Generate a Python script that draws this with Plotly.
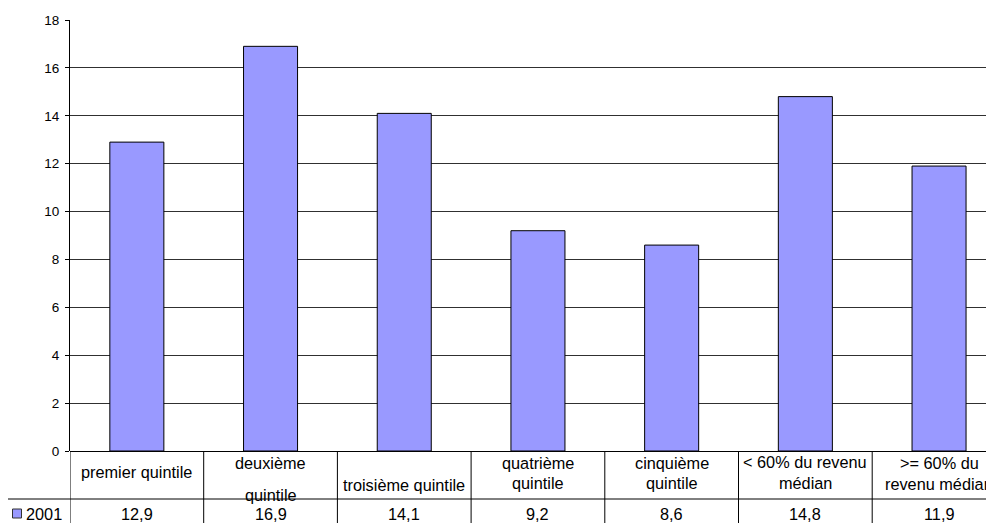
import plotly.graph_objects as go

# ---- data ----
categories = ["premier quintile", "deuxième quintile", "troisième quintile",
              "quatrième quintile", "cinquième quintile",
              "< 60% du revenu médian", ">= 60% du revenu médian"]
values_2001 = [12.9, 16.9, 14.1, 9.2, 8.6, 14.8, 11.9]
value_labels = ["12,9", "16,9", "14,1", "9,2", "8,6", "14,8", "11,9"]
series_name = "2001"
y_ticks = [0, 2, 4, 6, 8, 10, 12, 14, 16, 18]

# ---- layout geometry (reference pixels; page body adds an 8px offset) ----
OFF = 8
W, H = 994 - OFF, 523 - OFF
ML = 70 - OFF
MT = 20 - OFF
ZERO_PX = 451 - OFF
MB = H - ZERO_PX
plot_h = H - MT - MB
plot_w = W - ML
cat_px = 133.7
FONT = "Arial, Liberation Sans, sans-serif"
BAR = "#9999FF"
TXT = 16.3

def py(p):  # reference pixel y -> paper y
    return (ZERO_PX - (p - OFF)) / plot_h

def px(p):  # reference pixel x -> paper x
    return (p - OFF - ML) / plot_w

# category label lines and their pixel rows (Excel-like placement)
label_lines = [
    [("premier quintile", 472)],
    [("deuxième", 463), ("quintile", 495)],
    [("troisième quintile", 485)],
    [("quatrième", 463), ("quintile", 483)],
    [("cinquième", 463), ("quintile", 483)],
    [("< 60% du revenu", 462), ("médian", 483)],
    [(">= 60% du", 463), ("revenu médian", 484)],
]

fig = go.Figure()
fig.add_trace(go.Bar(
    x=list(range(len(categories))), y=values_2001, name=series_name,
    marker=dict(color=BAR, line=dict(color="#000000", width=1)),
    hovertext=categories, showlegend=False,
))

shapes = []
annotations = []
row_div = py(499)
bottom = py(540)
for k in range(len(categories) + 1):
    shapes.append(dict(type="line", xref="x", yref="paper",
                       x0=k - 0.5, x1=k - 0.5, y0=0, y1=bottom,
                       line=dict(color="#000000", width=1)))
shapes.append(dict(type="line", xref="paper", yref="paper",
                   x0=px(7), x1=1.05, y0=row_div, y1=row_div,
                   line=dict(color="#000000", width=1)))
shapes.append(dict(type="line", xref="paper", yref="paper",
                   x0=px(7.5), x1=px(7.5), y0=row_div, y1=bottom,
                   line=dict(color="#000000", width=1)))
shapes.append(dict(type="rect", xref="paper", yref="paper",
                   x0=px(12.5), x1=px(21.5), y0=py(509), y1=py(518),
                   fillcolor=BAR, line=dict(color="#333333", width=1)))
annotations.append(dict(text=series_name, xref="paper", yref="paper",
                        x=px(24), y=py(513.5), xanchor="left", yanchor="middle",
                        showarrow=False, font=dict(family=FONT, size=TXT, color="#000")))

for i, lines in enumerate(label_lines):
    for txt, ypix in lines:
        annotations.append(dict(text=txt, xref="x", yref="paper", x=i, y=py(ypix),
                                xanchor="center", yanchor="middle", showarrow=False,
                                font=dict(family=FONT, size=TXT, color="#000")))
    annotations.append(dict(text=value_labels[i], xref="x", yref="paper", x=i, y=py(513.5),
                            xanchor="center", yanchor="middle", showarrow=False,
                            font=dict(family=FONT, size=TXT, color="#000")))

fig.update_layout(
    width=W, height=H,
    margin=dict(l=ML, r=0, t=MT, b=MB, pad=0),
    paper_bgcolor="white", plot_bgcolor="white",
    bargap=0.596,
    showlegend=False,
    shapes=shapes, annotations=annotations,
    font=dict(family=FONT, color="#000"),
)
fig.update_xaxes(range=[-0.5, -0.5 + plot_w / cat_px], showticklabels=False,
                 showgrid=False, zeroline=False, showline=False, ticks="")
fig.update_yaxes(range=[0, 18], tickvals=y_ticks, ticks="outside", ticklen=4,
                 tickcolor="#000", showline=True, linecolor="#000", linewidth=1,
                 showgrid=True, gridcolor="#303030", gridwidth=1,
                 zeroline=True, zerolinecolor="#000", zerolinewidth=1,
                 tickfont=dict(family=FONT, size=13.5, color="#000"),
                 ticklabelstandoff=3)

fig.write_html("out.html")
